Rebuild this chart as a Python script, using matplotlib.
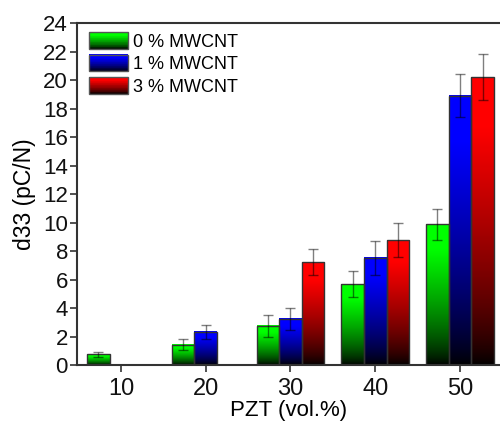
import numpy as np
import matplotlib
matplotlib.use('Agg')
import matplotlib.pyplot as plt
from matplotlib.colors import LinearSegmentedColormap
from matplotlib.patches import Rectangle
from matplotlib.legend_handler import HandlerBase

plt.rcParams['font.family'] = ['Liberation Sans', 'DejaVu Sans']

# data
pzt = [10, 20, 30, 40, 50]
series = ['0 % MWCNT', '1 % MWCNT', '3 % MWCNT']
colors = ['#00ff00', '#0000ff', '#ff0000']
d33_0 = [0.75, 1.42, 2.74, 5.68, 9.88]
err_0 = [0.18, 0.40, 0.80, 0.90, 1.10]
d33_1 = [np.nan, 2.32, 3.23, 7.52, 18.9]
err_1 = [np.nan, 0.50, 0.80, 1.20, 1.50]
d33_3 = [np.nan, np.nan, 7.22, 8.76, 20.2]
err_3 = [np.nan, np.nan, 0.90, 1.20, 1.60]
values = [d33_0, d33_1, d33_3]
errors = [err_0, err_1, err_3]
yticks = np.arange(0, 25, 2)

bar_w = 2.67
edge = '#333333'


def shade(t):
    # brightness along the bar, 0 at the base, 1 at the top
    return np.clip(t ** 0.75 * 1.15, 0, 1)


def make_cmap(c):
    return LinearSegmentedColormap.from_list('g', ['#000000', c])


class GradientHandler(HandlerBase):
    def __init__(self, color):
        super().__init__()
        self.color = color

    def create_artists(self, legend, orig_handle, xdescent, ydescent, width, height, fontsize, trans):
        cmap = make_cmap(self.color)
        n = 24
        arts = []
        for i in range(n):
            t = (i + 0.5) / n
            r = Rectangle((-xdescent, -ydescent + height * i / n), width, height / n + 0.3,
                          facecolor=cmap(shade(t)), edgecolor='none', transform=trans)
            arts.append(r)
        arts.append(Rectangle((-xdescent, -ydescent), width, height, facecolor='none',
                              edgecolor='#555555', lw=1.0, transform=trans))
        return arts


fig = plt.figure(figsize=(5.0, 4.22), dpi=100)
ax = fig.add_axes([0.154, 0.135, 0.846, 0.8105])

x = np.array(pzt, dtype=float)
grad = shade(np.linspace(0, 1, 256)).reshape(-1, 1)
handles = []
for k, (vals, errs, col) in enumerate(zip(values, errors, colors)):
    xs = x + (k - 1) * bar_w
    cmap = make_cmap(col)
    bars = ax.bar(xs, vals, width=bar_w, facecolor='none', edgecolor=edge, lw=1.0, zorder=3)
    for b, v in zip(bars, vals):
        if np.isnan(v):
            continue
        x0 = b.get_x()
        ax.imshow(grad, extent=[x0, x0 + bar_w, 0, v], origin='lower', cmap=cmap,
                  vmin=0, vmax=1, aspect='auto', zorder=2, interpolation='bilinear')
    ax.errorbar(xs, vals, yerr=errs, fmt='none', ecolor='#000000', alpha=0.5,
                elinewidth=1.0, capsize=3.5, capthick=1.0, zorder=4)
    handles.append(Rectangle((0, 0), 1, 1, facecolor=col))

ax.set_xlim(4.81, 54.72)
ax.set_ylim(0, 24)
ax.set_xticks(pzt)
ax.set_yticks(yticks)
ax.tick_params(axis='x', direction='out', length=5, width=1.2, labelsize=17, pad=4, colors='#333333',
               labelcolor='#111111')
ax.tick_params(axis='y', direction='out', length=5, width=1.2, labelsize=16, pad=1.5, colors='#333333',
               labelcolor='#111111')
ax.spines['right'].set_visible(False)
for s in ['left', 'top', 'bottom']:
    ax.spines[s].set_linewidth(1.5)
    ax.spines[s].set_color('#333333')

ax.set_xlabel('PZT (vol.%)', fontsize=16, labelpad=0)
ax.set_ylabel('d33 (pC/N)', fontsize=16.5, labelpad=5)

ax.legend(handles, series, handler_map={h: GradientHandler(c) for h, c in zip(handles, colors)},
          loc='upper left', bbox_to_anchor=(0.007, 1.0), frameon=False, fontsize=13,
          handlelength=2.15, handleheight=1.05, handletextpad=0.3, labelspacing=0.22,
          borderaxespad=0.3, borderpad=0.2)

fig.savefig('out.png', dpi=100)
